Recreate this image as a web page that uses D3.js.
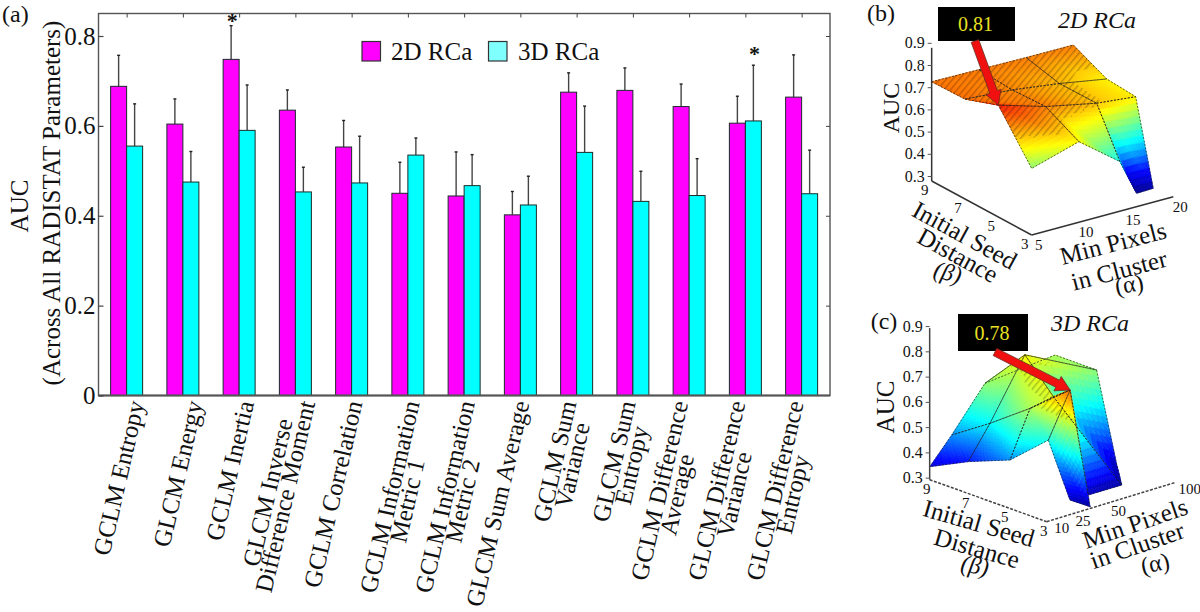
<!DOCTYPE html>
<html><head><meta charset="utf-8">
<script src="https://cdnjs.cloudflare.com/ajax/libs/d3/7.8.5/d3.min.js"></script>
<style>
html,body{margin:0;padding:0;background:#fff}
svg{display:block}
text{font-family:"Liberation Serif","Times New Roman",serif;fill:#111}
</style></head><body><svg id="c" width="1200" height="612"></svg>
<script>
// ---------- panel (a) data ----------
const categories = [["GCLM Entropy"],["GLCM Energy"],["GCLM Inertia"],["GLCM  Inverse","Difference Moment"],["GCLM Correlation"],["GCLM Information","Metric 1"],["GCLM Information","Metric 2"],["GLCM Sum Average"],["GCLM Sum","Variance"],["GLCM Sum","Entropy"],["GCLM Difference","Average"],["GLCM Difference","Variance"],["GLCM Difference","Entropy"]];
const seriesNames = ["2D RCa","3D RCa"];
const auc2D = [0.688,0.604,0.748,0.635,0.553,0.450,0.444,0.402,0.675,0.679,0.643,0.606,0.664];
const err2D = [0.757,0.660,0.823,0.680,0.612,0.519,0.542,0.454,0.718,0.729,0.693,0.666,0.758];
const auc3D = [0.555,0.475,0.590,0.453,0.473,0.535,0.467,0.424,0.541,0.432,0.445,0.611,0.449];
const err3D = [0.649,0.543,0.691,0.508,0.577,0.573,0.536,0.488,0.644,0.499,0.527,0.735,0.546];
const starred = [[2,0],[11,1]];
const yTicks = [0,0.2,0.4,0.6,0.8];

// ---------- panel (b) surface, vertices in data units ----------
const bAlpha = [5,10,15,20, 5,10,15,20, 5,10,15.2,19.7, 5,10,14.15,18.8,17.56];
const bBeta  = [9,9,9,9, 7,7,7,7, 5,5,4.88,5.09, 3,3,2.89,3.53,3.82];
const bAuc   = [.747,.744,.741,.74, .75,.734,.705,.668, .804,.74,.70,.669, .60,.663,.53,.33,.31];
const bFacets = [[2,3,7,6],[1,2,6,5],[0,1,5,4],[6,7,11,10],[5,6,10,9],[4,5,9,8],[10,11,15,16,14],[9,10,14,13],[8,9,13,12]];
const bAlphaTicks = [5,10,15,20];
const bBetaTicks = [9,7,5,3];
// ---------- panel (c) surface ----------
const cAlpha = [13.2,25.1,24,38.2,28.3,39.1,38.1,29.9,52.9,76.8,48.6,104.1,109.4,91.4,74.7,48.8,39.7,33.8];
const cBeta  = [9.22,8.12,5.9,4.97,9.2,8.03,5.9,3.25,9.29,8.99,5.47,9.43,7.69,5.34,3.87,3.69,2.94,3.54];
const cAuc   = [.34,.37,.44,.52,.44,.5,.62,.78,.6,.68,.66,.62,.6,.32,.31,.32,.31,.33];
const cFacets = [[8,11,12,9],[9,12,13,14,10],[10,14,15,7],[8,9,5,4],[9,10,6,5],[10,7,6],[4,5,1,0],[5,6,2,1],[6,7,3,2],[3,7,16,17]];
const cAlphaTicks = [10,25,50,100];
const cBetaTicks = [9,7,5,3];
const zTicks = [.3,.4,.5,.6,.7,.8,.9];

const svg = d3.select("#c");
// ---------- panel (a) ----------
const L=98.5,R=830,T=13.5,B=395.5;
const x0 = d3.scaleBand().domain(d3.range(categories.length)).range([L,L+56.25*13]);
const y = d3.scaleLinear().domain([0,0.8]).range([B,36]);
const barW = 16;
const pa = svg.append("g");
const allSeries = [{v:auc2D,e:err2D,c:"#ff00ff",o:0},{v:auc3D,e:err3D,c:"#00ffff",o:1}];
const cx = i => x0(i)+x0.bandwidth()/2;
allSeries.forEach(s=>{
  const g = pa.append("g");
  const xc = (d,i)=>cx(i)-barW+s.o*barW+barW/2;
  g.selectAll("line.s").data(s.e).join("line").attr("x1",xc).attr("x2",xc)
    .attr("y1",d=>y(d)).attr("y2",(d,i)=>y(s.v[i])).attr("stroke","#444").attr("stroke-width",1.4);
  g.selectAll("line.c").data(s.e).join("line").attr("x1",(d,i)=>xc(d,i)-1.5).attr("x2",(d,i)=>xc(d,i)+1.5)
    .attr("y1",d=>y(d)).attr("y2",d=>y(d)).attr("stroke","#222").attr("stroke-width",1.4);
  g.selectAll("rect").data(s.v).join("rect").attr("x",(d,i)=>cx(i)-barW+s.o*barW).attr("width",barW)
    .attr("y",d=>y(d)).attr("height",d=>B-y(d)).attr("fill",s.c).attr("stroke","#1c2b2b").attr("stroke-width",1);
});
pa.append("rect").attr("x",L).attr("y",T).attr("width",R-L).attr("height",B-T).attr("fill","none").attr("stroke","#555").attr("stroke-width",1.4);
pa.append("line").attr("x1",L).attr("x2",R).attr("y1",B).attr("y2",B).attr("stroke","#555").attr("stroke-width",2);
const yAxis = d3.axisLeft(y).tickValues(yTicks).tickFormat(d=>d===0?"0":d3.format(".1f")(d)).tickSizeInner(-5).tickSizeOuter(0).tickPadding(3);
pa.append("g").attr("transform",`translate(${L},0)`).call(yAxis).call(g=>{g.select(".domain").remove();g.selectAll("text").attr("font-size",25).attr("font-family","Liberation Serif").attr("fill","#111");g.selectAll("line").attr("stroke","#444").attr("stroke-width",1.2);});
pa.append("g").attr("transform",`translate(${R},0)`).call(d3.axisRight(y).tickValues(yTicks.slice(1)).tickFormat("").tickSizeInner(-4).tickSizeOuter(0)).call(g=>{g.select(".domain").remove();g.selectAll("line").attr("stroke","#444");});
pa.append("g").attr("transform",`translate(0,${T})`).call(d3.axisBottom(d3.scalePoint().domain(d3.range(13)).range([cx(0),cx(12)])).tickFormat("").tickSizeInner(4).tickSizeOuter(0)).call(g=>{g.select(".domain").remove();g.selectAll("line").attr("stroke","#444");});
// stars
pa.selectAll("text.star").data(starred).join("text").attr("class","star").attr("text-anchor","middle").attr("font-size",22).attr("font-weight","bold")
  .attr("x",d=>cx(d[0])-barW/2+d[1]*barW+1).attr("y",(d,i)=>y(allSeries[d[1]].e[d[0]])+ (i?-4:2)).text("*");
// axis titles
const vtext=(g,xx,yy,s,size)=>g.append("text").attr("transform",`translate(${xx},${yy}) rotate(-90)`).attr("text-anchor","middle").attr("dy",".35em").attr("font-size",size).text(s);
pa.append("text").attr("x",2).attr("y",22).attr("font-size",24).text("(a)");
vtext(pa,19,206,"AUC",25);
vtext(pa,51,203,"(Across All RADISTAT Parameters)",25);
// legend
[[362,391,"#ff00ff"],[488.5,518,"#80ffff"]].forEach((l,i)=>{
  pa.append("rect").attr("x",l[0]).attr("y",41.5).attr("width",18.5).attr("height",19.5).attr("fill",l[2]).attr("stroke","#333").attr("stroke-width",1.2);
  pa.append("text").attr("x",l[1]).attr("y",60).attr("font-size",25).text(seriesNames[i]);
});
// category labels
const labelShift=[18,20,15,20,11,12,11,9,0,3,-1,0,2];
const angle=-77, lineH=18;
categories.forEach((lines,i)=>{
  const g=pa.append("g").attr("transform",`translate(${cx(i)+labelShift[i]},403) rotate(${angle})`);
  const ts=lines.map((s,k)=>g.append("text").attr("font-size",24.8).attr("text-anchor","middle").attr("y",k*lineH).text(s));
  const w=d3.max(ts,t=>t.node().getComputedTextLength());
  const longest=ts.findIndex(t=>t.node().getComputedTextLength()===w);
  ts.forEach((t,k)=>t.attr("x",-w/2).attr("y",(k-longest)*lineH));
});

// ---------- 3D surfaces ----------
function surface(o){
  const g=svg.append("g");
  const xa=d3.scaleLinear().domain(o.alphaDomain).range([0,o.aVec[0]]), ya=d3.scaleLinear().domain(o.alphaDomain).range([0,o.aVec[1]]);
  const xb=d3.scaleLinear().domain([3,9]).range([0,o.bVec[0]]), yb=d3.scaleLinear().domain([3,9]).range([0,o.bVec[1]]);
  const zs=d3.scaleLinear().domain([.3,.9]).range([0,o.zSpan]);
  const P=(a,b,z)=>[o.O[0]+xa(a)+xb(b), o.O[1]+ya(a)+yb(b)+zs(z)];
  const color=d3.scaleLinear().domain(o.colDomain).range(["#00008f","#0000ff","#00ffff","#ffff00","#ff0000"]).clamp(true);
  const V=o.alpha.map((a,i)=>({a,b:o.beta[i],z:o.auc[i]}));
  const sg=g.append("g").style("filter","blur(0.7px)");
  const N=14; let hatch="";
  const lerp=(p,q,r,u,v)=>{const w=1-u-v;return {a:p.a*w+q.a*u+r.a*v,b:p.b*w+q.b*u+r.b*v,z:p.z*w+q.z*u+r.z*v};};
  const pth=d3.line();
  o.facets.forEach(f=>{
    for(let t=1;t<f.length-1;t++){
      const p=V[f[0]],q=V[f[t]],r=V[f[t+1]];
      const tris=[];
      for(let m=0;m<N;m++)for(let n=0;n<N-m;n++){
        tris.push([lerp(p,q,r,m/N,n/N),lerp(p,q,r,(m+1)/N,n/N),lerp(p,q,r,m/N,(n+1)/N)]);
        if(m+n<N-1)tris.push([lerp(p,q,r,(m+1)/N,n/N),lerp(p,q,r,(m+1)/N,(n+1)/N),lerp(p,q,r,m/N,(n+1)/N)]);
      }
      tris.forEach(tr=>{
        const zm=d3.mean(tr,d=>d.z), d=pth(tr.map(v=>P(v.a,v.b,v.z)))+"Z", c=color(zm);
        sg.append("path").attr("d",d).attr("fill",c).attr("stroke",c).attr("stroke-width",.6);
        if(zm>o.hatchAbove)hatch+=d;
      });
    }
  });
  const pid="hatch"+o.id;
  const pat=svg.append("defs").append("pattern").attr("id",pid).attr("patternUnits","userSpaceOnUse").attr("width",5).attr("height",5).attr("patternTransform","rotate(40)");
  pat.append("rect").attr("width",1.5).attr("height",5).attr("fill","#000").attr("opacity",.24);
  sg.append("path").attr("d",hatch).attr("fill",`url(#${pid})`);
  o.facets.forEach(f=>{
    sg.append("path").attr("d",pth(f.map(i=>P(V[i].a,V[i].b,V[i].z)))+"Z").attr("fill","none").attr("stroke","#222").attr("stroke-width",.7).attr("stroke-dasharray",o.meshDash);
  });
  // axes
  const ax=g.append("g").attr("stroke",o.axisColor).attr("stroke-width",1.5).attr("fill","none");
  const amin=o.alphaDomain[0],amax=o.alphaDomain[1];
  const bl=(p,q,dash)=>ax.append("line").attr("x1",p[0]).attr("y1",p[1]).attr("x2",q[0]).attr("y2",q[1]).attr("stroke-dasharray",dash);
  bl(P(amin,9,.3),P(amin,3,.3),o.axisDash); bl(P(amin,3,.3),P(amax,3,.3),o.axisDash);
  const base=P(amin,9,.3);
  const zAxisScale=d3.scaleLinear().domain([.3,.9]).range([base[1]+o.zLabelShift,base[1]+o.zLabelShift+o.zSpan]);
  bl(base,P(amin,9,.9),null);
  g.append("g").attr("transform",`translate(${base[0]},0)`).call(d3.axisLeft(zAxisScale).tickValues(zTicks).tickFormat(d3.format(".1f")).tickSizeOuter(0).tickSizeInner(4).tickPadding(3))
    .call(s=>{s.select(".domain").remove();s.selectAll("text").attr("font-size",16).attr("font-family","Liberation Serif").attr("fill","#444");s.selectAll("line").attr("stroke","#555");});
  o.alphaTicks.forEach(a=>{const p=P(a,3,.3);
    g.append("text").attr("x",p[0]+o.aLab[0]).attr("y",p[1]+o.aLab[1]).attr("dy",".35em").attr("text-anchor","middle").attr("font-size",15).attr("fill","#333").text(a);});
  o.betaTicks.forEach(b=>{const p=P(amin,b,.3);
    g.append("text").attr("x",p[0]+o.bLab[0]).attr("y",p[1]+o.bLab[1]).attr("dy",".35em").attr("text-anchor","middle").attr("font-size",15).attr("fill","#333").text(b);});
  // texts
  const rt=(s,xx,yy,rot,size,ital)=>g.append("text").attr("transform",`translate(${xx},${yy}) rotate(${rot})`).attr("text-anchor","middle").attr("dy",".35em").attr("font-size",size).attr("font-style",ital?"italic":null).text(s);
  o.texts.forEach(t=>rt(...t));
  // callout
  g.append("rect").attr("x",o.box[0]).attr("y",o.box[1]).attr("width",o.box[2]).attr("height",o.box[3]).attr("fill","#000");
  g.append("text").attr("x",o.box[0]+o.box[2]/2-1).attr("y",o.box[1]+o.box[3]/2).attr("dy",".35em").attr("text-anchor","middle").attr("font-size",20).style("fill","#e8e020").text(o.label);
  const tip=(()=>{const v=V[o.peak];return P(v.a,v.b,v.z);})(), st=o.arrowStart;
  const dx=tip[0]-st[0],dy=tip[1]-st[1],len=Math.hypot(dx,dy),ux=dx/len,uy=dy/len,nx=-uy,ny=ux;
  const hl=14,hw=8,sw=4;
  const pt=(along,off)=>[st[0]+ux*along+nx*off,st[1]+uy*along+ny*off];
  g.append("path").attr("d",pth([pt(0,-sw),pt(len-hl,-sw),pt(len-hl,-hw),pt(len,0),pt(len-hl,hw),pt(len-hl,sw),pt(0,sw)])+"Z").attr("fill","#f01010").attr("stroke","#6a2a20").attr("stroke-width",.8);
}
surface({id:"b",O:[1031.67,235],aVec:[141.67,-38.33],bVec:[-100,-54],zSpan:-133.2,alphaDomain:[5,20],
  alpha:bAlpha,beta:bBeta,auc:bAuc,facets:bFacets,colDomain:[.31,.40,.52,.66,.82],hatchAbove:.695,meshDash:"2 1.5",
  axisColor:"#333",axisDash:null,zLabelShift:-5,alphaTicks:bAlphaTicks,betaTicks:bBetaTicks,aLab:[7,10],bLab:[-7,9],
  box:[938,7,77,34],label:"0.81",peak:8,arrowStart:[975,41],
  texts:[["(b)",881,13,0,24],["2D RCa",1097,20,0,24,true],["AUC",891,108,-90,24],
    ["Initial Seed",965,235,28.7,25],["Distance",958,255,28.7,25],["(β)",948,272,15,24,true],
    ["Min Pixels",1113,243,-14.5,25],["in Cluster",1119,270,-14.5,25],["(α)",1129,284,-10,24]]});
surface({id:"c",O:[1046.67,521.67],aVec:[128,-39],bVec:[-117,-42],zSpan:-151.6,alphaDomain:[10,100],
  alpha:cAlpha,beta:cBeta,auc:cAuc,facets:cFacets,colDomain:[.3,.36,.5,.68,.85],hatchAbove:.645,meshDash:"2 1.5",
  axisColor:"#444",axisDash:"3 1.5",zLabelShift:-2,alphaTicks:cAlphaTicks,betaTicks:cBetaTicks,aLab:[15,6],bLab:[-3,9],
  box:[958,314,70,37],label:"0.78",peak:7,arrowStart:[995,352],
  texts:[["(c)",884,321,0,24],["3D RCa",1090,323,0,24,true],["AUC",885,407,-90,25],
    ["Initial Seed",979,523,16,25],["Distance",977,548,16,25],["(β)",975,565,10,24,true],
    ["Min Pixels",1135,523,-19,25],["in Cluster",1137,545,-19,25],["(α)",1155,563,-12,24]]});
</script></body></html>
